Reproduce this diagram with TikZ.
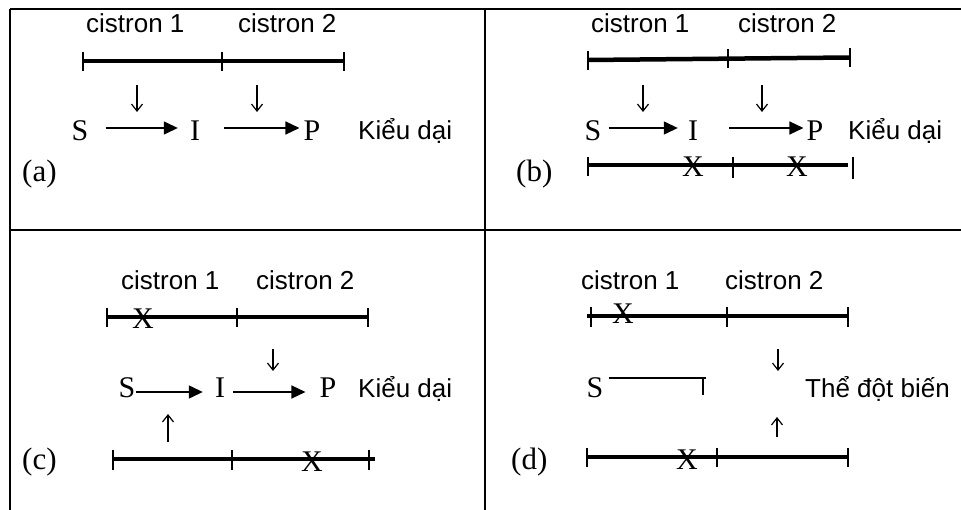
\documentclass[tikz,border=0pt]{standalone}
\usepackage{fontspec}
\setmainfont{Liberation Serif}
\newfontfamily\sansf{Liberation Sans}
\usetikzlibrary{arrows.meta}
\tikzset{
  frame/.style={line width=2.5pt},
  gene/.style={line width=4.5pt},
  gtick/.style={line width=1.5pt},
  lbl/.style={font=\sansf\fontsize{26}{30}\selectfont, inner sep=0pt, anchor=base west},
  met/.style={font=\fontsize{30}{34}\selectfont, inner sep=0pt, anchor=base, text height=26pt, text depth=0pt},
  mut/.style={font=\fontsize{30}{34}\selectfont, inner sep=0pt, anchor=base},
  panel/.style={font=\fontsize{31}{35}\selectfont, inner sep=0pt, anchor=base west},
  rxn/.style={line width=1.3pt, -{Triangle[length=14pt,width=13pt]}},
  reg/.style={line width=1.2pt, -{Straight Barb[length=7pt,width=11pt]}},
  thin/.style={line width=1.2pt}
}
\begin{document}
\begin{tikzpicture}[x=1pt,y=-1pt]
\useasboundingbox (0,0) rectangle (961,510);
% frame
\draw[frame] (10,9) -- (961,9);
\draw[frame] (10,230) -- (961,230);
\draw[frame] (10,9) -- (10,510);
\draw[frame] (485,9) -- (485,510);

%% ---------- panel (a)
\node[lbl] (a1) at (86,33) {cistron 1};
\node[lbl] (a2) at (238,33) {cistron 2};
\draw[gene] (83,61) -- (344,61);
\foreach \x in {83,222,344} \draw[gtick] (\x,52) -- (\x,71);
\draw[reg] (137,85) -- (137,112);
\draw[reg] (257,85) -- (257,112);
\node[met] (aS) at (80,141) {S};
\node[met] (aI) at (195,141) {I};
\node[met] (aP) at (312,141) {P};
\draw[rxn] ([xshift=17pt]aS.east) -- ([xshift=-12pt]aI.west);
\draw[rxn] ([xshift=24pt]aI.east) -- ([xshift=-4pt]aP.west);
\node[lbl] (aK) at (358,140) {Kiểu dại};
\node[panel] (aL) at (22,182) {(a)};

%% ---------- panel (b)
\node[lbl] (b1) at (591,33) {cistron 1};
\node[lbl] (b2) at (738,33) {cistron 2};
\draw[gene] (588,60) -- (850,57.5);
\draw[gtick] (588,51) -- (588,70);
\draw[gtick] (728,49.5) -- (728,68.5);
\draw[gtick] (850,48.5) -- (850,67.5);
\draw[reg] (643,85) -- (643,112);
\draw[reg] (762,85) -- (762,112);
\node[met] (bS) at (593,141) {S};
\node[met] (bI) at (693,141) {I};
\node[met] (bP) at (815,141) {P};
\draw[rxn] ([xshift=7pt]bS.east) -- ([xshift=-10pt]bI.west);
\draw[rxn] ([xshift=31pt]bI.east) -- ([xshift=-3pt]bP.west);
\node[lbl] (bK) at (848,140) {Kiểu dại};
\draw[gene] (588,165) -- (848,165);
\draw[gtick] (588,157) -- (588,176);
\draw[gtick] (733,157) -- (733,178);
\draw[gtick] (853,157) -- (853,179);
\node[mut] (bX1) at (693,177) {X};
\node[mut] (bX2) at (797,177) {X};
\node[panel] (bL) at (516,182) {(b)};

%% ---------- panel (c)
\node[lbl] (c1) at (121,290) {cistron 1};
\node[lbl] (c2) at (256,290) {cistron 2};
\draw[gene] (107,317) -- (368,317);
\foreach \x in {107,237,368} \draw[gtick] (\x,308) -- (\x,327);
\node[mut] (cX1) at (143,329) {X};
\draw[reg] (273,349) -- (273,371);
\node[met] (cS) at (127,398) {S};
\node[met] (cI) at (220,398) {I};
\node[met] (cP) at (328,398) {P};
\draw[rxn] ([xshift=0pt,yshift=-7pt]cS.east) -- ([xshift=-12pt,yshift=-7pt]cI.west);
\draw[rxn] ([xshift=8pt,yshift=-7pt]cI.east) -- ([xshift=-14pt,yshift=-7pt]cP.west);
\node[lbl] (cK) at (358,397) {Kiểu dại};
\draw[reg] (168,442) -- (168,414);
\draw[gene] (113,459) -- (375,459);
\foreach \x in {113,232,369} \draw[gtick] (\x,450) -- (\x,470);
\node[mut] (cX2) at (312,471) {X};
\node[panel] (cL) at (22,469) {(c)};

%% ---------- panel (d)
\node[lbl] (d1) at (581,290) {cistron 1};
\node[lbl] (d2) at (725,290) {cistron 2};
\draw[gene] (587,316) -- (848,316);
\foreach \x in {591,727,848} \draw[gtick] (\x,307) -- (\x,327);
\node[mut] (dX1) at (623,324) {X};
\draw[reg] (778,349) -- (778,371);
\node[met] (dS) at (595,398) {S};
\coordinate (dE) at (706,378);
\draw[thin] ([xshift=5pt,yshift=7pt]dS.east) -- (dE);
\draw[thin] (703,378) -- (703,395);
\node[lbl] (dK) at (805,397) {Thể đột biến};
\draw[reg] (777,437) -- (777,417);
\draw[gene] (587,457) -- (848,457);
\foreach \x in {587,717,848} \draw[gtick] (\x,448) -- (\x,467);
\node[mut] (dX2) at (687,469) {X};
\node[panel] (dL) at (511,469) {(d)};
\end{tikzpicture}
\end{document}
